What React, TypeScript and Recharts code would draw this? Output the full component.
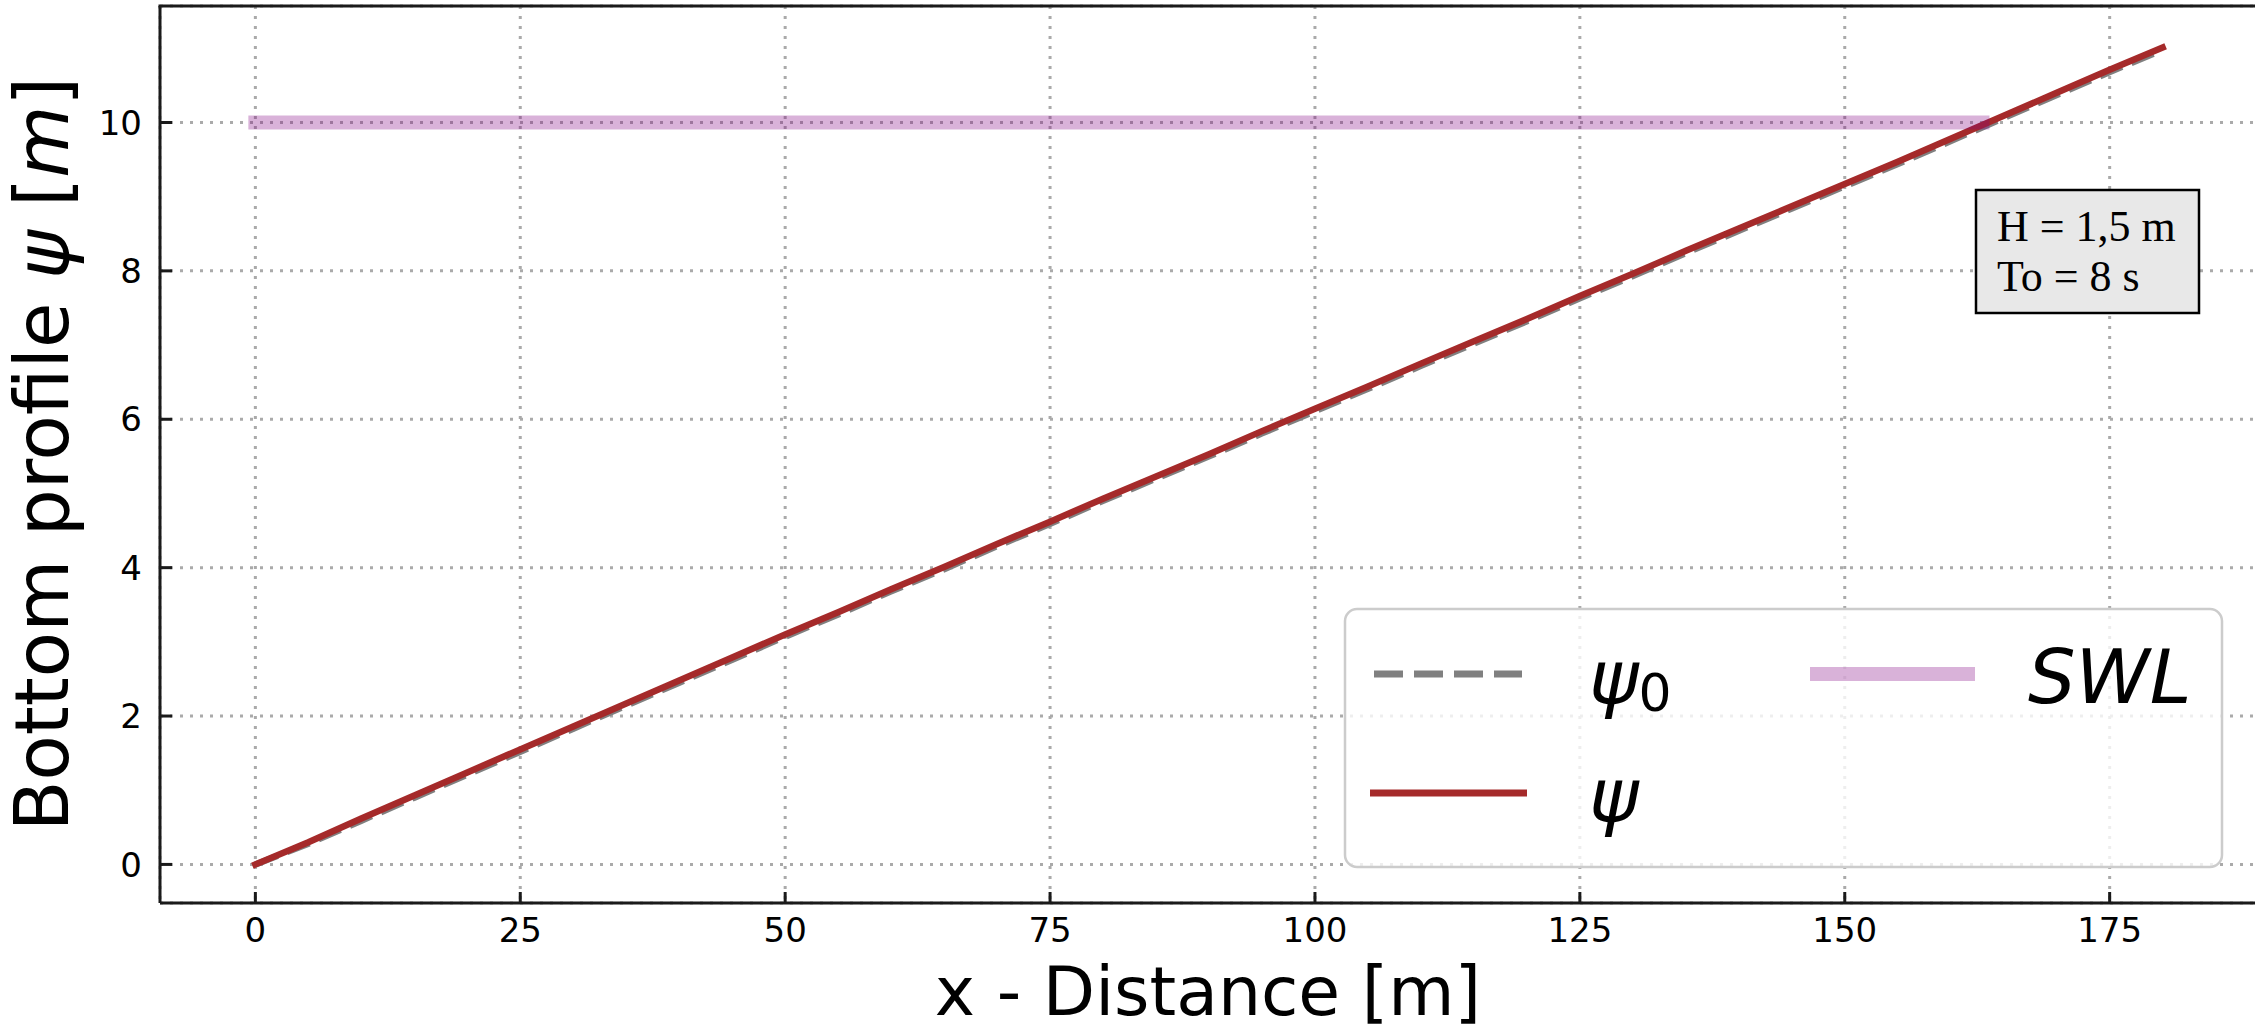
import { LineChart, Line, XAxis, YAxis, CartesianGrid } from 'recharts';

// distance along the profile [m]
const distance = [
  0, 5, 10, 15, 20, 25, 30, 35, 40, 45, 50, 55, 60, 65, 70, 75, 80, 85, 90,
  95, 100, 105, 110, 115, 120, 125, 130, 135, 140, 145, 150, 155, 160, 165,
  170, 175, 180,
];

// initial bottom profile psi0 [m]
const psi0 = [
  0.0, 0.28, 0.59, 0.9, 1.21, 1.52, 1.83, 2.14, 2.45, 2.76, 3.07, 3.37, 3.68,
  3.98, 4.29, 4.59, 4.9, 5.2, 5.5, 5.81, 6.11, 6.41, 6.72, 7.02, 7.32, 7.63,
  7.93, 8.24, 8.54, 8.84, 9.14, 9.44, 9.75, 10.06, 10.37, 10.68, 10.98,
];

// final bottom profile psi [m]
const psi = [
  0.0, 0.3, 0.62, 0.93, 1.24, 1.55, 1.86, 2.17, 2.48, 2.79, 3.1, 3.4, 3.71,
  4.01, 4.32, 4.62, 4.93, 5.23, 5.53, 5.84, 6.14, 6.44, 6.75, 7.05, 7.35, 7.66,
  7.96, 8.27, 8.57, 8.87, 9.17, 9.47, 9.78, 10.09, 10.4, 10.71, 11.01,
];

// still water level, drawn up to the shoreline
const swlX = [0, 163];
const swlLevel = [10, 10];

const xTicks = [0, 25, 50, 75, 100, 125, 150, 175];
const yTicks = [0, 2, 4, 6, 8, 10];

const infoLines = ['H = 1,5 m', 'To = 8 s'];

const psi0Data = distance.map((x, i) => ({ x, y: psi0[i] }));
const psiData = distance.map((x, i) => ({ x, y: psi[i] }));
const swlData = swlX.map((x, i) => ({ x, y: swlLevel[i] }));

const W = 2255;
const H = 1033;
const PLOT_LEFT = 160;
const PLOT_TOP = 6;
const PLOT_BOTTOM = 903;
const FONT = '"DejaVu Sans", sans-serif';
const INK = '#1a1a1a';

const XTick = (props: any) => {
  const { x, payload } = props;
  return (
    <g>
      <line x1={x} x2={x} y1={PLOT_BOTTOM} y2={PLOT_BOTTOM - 11} stroke={INK} strokeWidth={3} />
      <text x={x} y={942} textAnchor="middle" fontSize={34} fontFamily={FONT} fill="#000">
        {payload.value}
      </text>
    </g>
  );
};

const YTick = (props: any) => {
  const { y, payload } = props;
  return (
    <g>
      <line x1={PLOT_LEFT} x2={PLOT_LEFT + 12} y1={y} y2={y} stroke={INK} strokeWidth={3} />
      <text x={142} y={y} dy="0.36em" textAnchor="end" fontSize={34} fontFamily={FONT} fill="#000">
        {payload.value}
      </text>
    </g>
  );
};

export default function App() {
  return (
    <div style={{ position: 'absolute', left: 0, top: 0, width: W, height: H, overflow: 'hidden', background: '#fff' }}>
      <LineChart width={2262} height={H} margin={{ top: PLOT_TOP, right: 4, bottom: 0, left: 0 }}>
        <CartesianGrid stroke="#aaaaaa" strokeWidth={3} strokeDasharray="3 7" />
        <XAxis
          type="number"
          dataKey="x"
          domain={[-9, 189]}
          ticks={xTicks}
          allowDataOverflow
          height={130}
          axisLine={{ stroke: INK, strokeWidth: 3 }}
          tickLine={false}
          tick={<XTick />}
        />
        <YAxis
          type="number"
          dataKey="y"
          domain={[-0.52, 11.57]}
          ticks={yTicks}
          allowDataOverflow
          width={PLOT_LEFT}
          axisLine={{ stroke: INK, strokeWidth: 3 }}
          tickLine={false}
          tick={<YTick />}
        />
        <Line
          data={psi0Data}
          dataKey="y"
          name="psi0"
          stroke="#808080"
          strokeWidth={6.5}
          strokeDasharray="24 10"
          dot={false}
          isAnimationActive={false}
        />
        <Line
          data={psiData}
          dataKey="y"
          name="psi"
          stroke="#a52a2a"
          strokeWidth={6.5}
          strokeLinecap="square"
          dot={false}
          isAnimationActive={false}
        />
        <Line
          data={swlData}
          dataKey="y"
          name="SWL"
          stroke="purple"
          strokeOpacity={0.3}
          strokeWidth={14}
          strokeLinecap="square"
          dot={false}
          isAnimationActive={false}
        />
      </LineChart>

      <svg width={W} height={H} style={{ position: 'absolute', left: 0, top: 0, pointerEvents: 'none' }}>
        {/* top spine */}
        <line x1={PLOT_LEFT - 1.5} x2={W} y1={PLOT_TOP} y2={PLOT_TOP} stroke={INK} strokeWidth={3} />

        {/* axis titles */}
        <text x={1208} y={1015} textAnchor="middle" fontSize={68} fontFamily={FONT} fill="#000">
          x - Distance [m]
        </text>
        <text transform="translate(68,454) rotate(-90)" textAnchor="middle" fontSize={74} fontFamily={FONT} fill="#000">
          Bottom profile <tspan fontStyle="italic">ψ</tspan> [<tspan fontStyle="italic">m</tspan>]
        </text>

        {/* wave parameters box */}
        <rect x={1976} y={190} width={223} height={123} fill="#e8e8e8" stroke="#000" strokeWidth={2.5} />
        {infoLines.map((t, i) => (
          <text key={t} x={1997} y={241 + i * 50} fontSize={44} fontFamily='"Liberation Serif", serif' fill="#000">
            {t}
          </text>
        ))}

        {/* legend */}
        <rect x={1345} y={609} width={877} height={258} rx={12} fill="#fff" fillOpacity={0.8} stroke="#cccccc" strokeWidth={2.5} />
        <line x1={1374} x2={1522} y1={674} y2={674} stroke="#808080" strokeWidth={7} strokeDasharray="29 11" />
        <text x={1589} y={703} fontSize={75} fontFamily={FONT} fontStyle="italic" fill="#000">
          ψ<tspan fontStyle="normal" fontSize={52} dy={8}>0</tspan>
        </text>
        <line x1={1370} x2={1527} y1={793} y2={793} stroke="#a52a2a" strokeWidth={7} />
        <text x={1589} y={821} fontSize={75} fontFamily={FONT} fontStyle="italic" fill="#000">
          ψ
        </text>
        <line x1={1810} x2={1975} y1={674} y2={674} stroke="purple" strokeOpacity={0.3} strokeWidth={14} />
        <text x={2028} y={703} fontSize={75} fontFamily={FONT} fontStyle="italic" fill="#000">
          SWL
        </text>
      </svg>
    </div>
  );
}
